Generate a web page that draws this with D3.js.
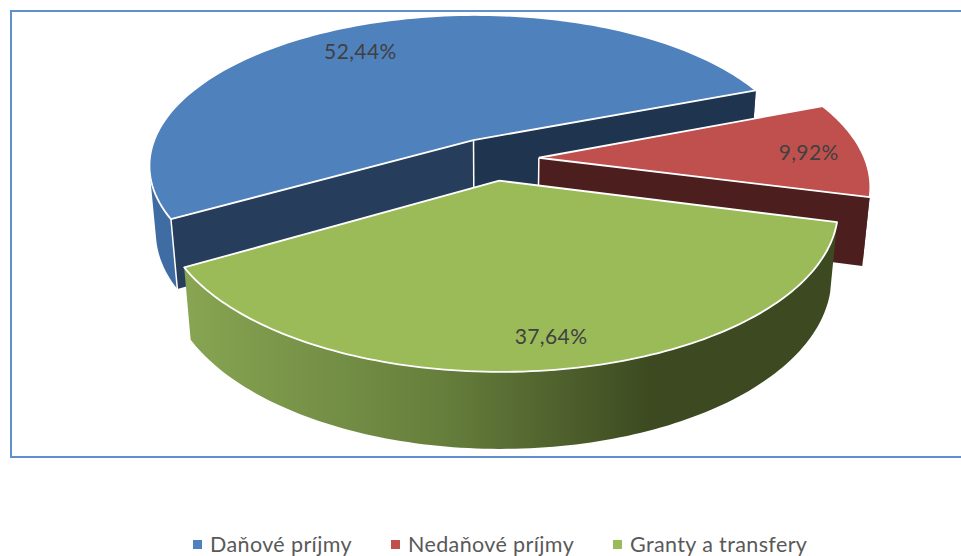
<!DOCTYPE html>
<html>
<head>
  <meta charset="utf-8">
  <script src="https://d3js.org/d3.v7.min.js"></script>
  <style>
    html, body { margin: 0; padding: 0; background: #fff; overflow: hidden; }
    text { font-family: Lato, "Open Sans", sans-serif; letter-spacing: 0.38px; }
  </style>
</head>
<body>
<script>
  // values
  var categories = ["Daňové príjmy", "Nedaňové príjmy", "Granty a transfery"];
  var shares = [52.44, 9.92, 37.64];
  var shareLabels = ["52,44%", "9,92%", "37,64%"];

  var topColors = ["#4f81bd", "#c0504d", "#9bbb59"];
  var width = 961, height = 556;

  var svg = d3.select("body").append("svg")
      .attr("width", width)
      .attr("height", height);

  // frame, the right side runs off the page
  svg.append("rect")
      .attr("x", 11).attr("y", 11)
      .attr("width", 970).attr("height", 446)
      .attr("fill", "none")
      .attr("stroke", "#5f8fcc")
      .attr("stroke-width", 2);

  // camera for the tilted pie
  var cx = 493, cy = 159, radius = 326, explode = 46;
  var tilt = 0.465, persp = 0.000507, drop = 68, dropW = 0.019;

  function project(x, z, h) {
    var w = 1 - persp * z + dropW * h;
    return [cx + x / w, cy + (tilt * z + drop * h) / w];
  }

  var pie = d3.pie()
      .sort(null)
      .startAngle(240 * Math.PI / 180)
      .endAngle(600 * Math.PI / 180);

  var slices = pie(shares).map(function (d, i) {
    var mid = (d.startAngle + d.endAngle) / 2;
    return {
      i: i,
      start: d.startAngle,
      end: d.endAngle,
      mid: mid,
      ox: explode * Math.sin(mid),
      oz: -explode * Math.cos(mid)
    };
  });

  function rimPoint(s, a, h) {
    return project(s.ox + radius * Math.sin(a), s.oz - radius * Math.cos(a), h);
  }
  function rim(s, h) {
    return d3.range(0, 121).map(function (k) {
      return rimPoint(s, s.start + (s.end - s.start) * k / 120, h);
    });
  }

  var line = d3.line();

  function face(points, fill) {
    return svg.append("path")
        .attr("d", line(points) + "Z")
        .attr("fill", fill);
  }
  function edge(points, w) {
    svg.append("path")
        .attr("d", line(points))
        .attr("fill", "none")
        .attr("stroke", "#fff")
        .attr("stroke-width", w)
        .attr("stroke-linejoin", "round");
  }

  // outer side as one path of small quads, all wound the same way
  function sideBand(top, base, fill) {
    var d = "";
    d3.range(top.length - 1).forEach(function (k) {
      var quad = [top[k], top[k + 1], base[k + 1], base[k]];
      if (d3.polygonArea(quad) < 0) quad.reverse();
      d += line(quad) + "Z";
    });
    svg.append("path").attr("d", d).attr("fill", fill);
  }

  // a cut wall shows only when the slice top lies above it on the screen
  function wallVisible(s, a) {
    var A = project(s.ox, s.oz, 0);
    var P = rimPoint(s, a, 0);
    var M = rimPoint(s, s.mid, 0);
    var t = (M[0] - A[0]) / (P[0] - A[0]);
    return M[1] < A[1] + t * (P[1] - A[1]);
  }

  // side of the green slice gets darker to the right
  var defs = svg.append("defs");
  var grad = defs.append("linearGradient")
      .attr("id", "greenSide")
      .attr("gradientUnits", "userSpaceOnUse")
      .attr("x1", 185).attr("y1", 0).attr("x2", 650).attr("y2", 0);
  grad.append("stop").attr("offset", "0").attr("stop-color", "#87a552");
  grad.append("stop").attr("offset", "0.55").attr("stop-color", "#667f3c");
  grad.append("stop").attr("offset", "1").attr("stop-color", "#3d4a21");

  var sideFill = ["#3f6ca3", "#4d1e1e", "url(#greenSide)"];
  var wallStart = ["#273d5c", "#4d1e1e", "#4d1e1e"];
  var wallEnd = ["#1f344e", "#4d1e1e", "#3d4a21"];

  // back to front: blue, red, green
  slices.forEach(function (s) {
    var apexTop = project(s.ox, s.oz, 0);
    var apexBase = project(s.ox, s.oz, 1);
    var top = rim(s, 0);
    var base = rim(s, 1);
    var showEnd = wallVisible(s, s.end);
    var showStart = wallVisible(s, s.start);

    sideBand(top, base, sideFill[s.i]);

    if (showEnd) {
      face([apexTop, rimPoint(s, s.end, 0), rimPoint(s, s.end, 1), apexBase], wallEnd[s.i]);
    }
    if (showStart) {
      face([apexTop, rimPoint(s, s.start, 0), rimPoint(s, s.start, 1), apexBase], wallStart[s.i]);
      edge([rimPoint(s, s.start, 0), rimPoint(s, s.start, 1)], 1.5);
    }
    if (showEnd || showStart) {
      edge([apexTop, apexBase], 1.5);
    }

    var outline = [apexTop].concat(top);
    face(outline, topColors[s.i]);
    edge(outline.concat([apexTop]), 1.8);
  });

  // labels sit on the bisector of each slice
  var labelRadius = [0.785, 0.835, 0.855];
  var labelShift = [-5 * Math.PI / 180, 1 * Math.PI / 180, -1 * Math.PI / 180];

  slices.forEach(function (s) {
    var a = s.mid + labelShift[s.i];
    var r = radius * labelRadius[s.i];
    var p = project(s.ox + r * Math.sin(a), s.oz - r * Math.cos(a), 0);
    svg.append("text")
        .attr("x", p[0])
        .attr("y", p[1] + 7)
        .attr("text-anchor", "middle")
        .attr("font-size", 21)
        .attr("fill", "#404040")
        .text(shareLabels[s.i]);
  });

  // legend
  var legendX = d3.scaleOrdinal().domain(categories).range([193, 391, 613]);
  var legend = svg.selectAll(".legend")
      .data(categories)
      .enter().append("g")
      .attr("class", "legend");

  legend.append("rect")
      .attr("x", function (d) { return legendX(d); })
      .attr("y", 540)
      .attr("width", 9)
      .attr("height", 9)
      .attr("fill", function (d, i) { return topColors[i]; });

  legend.append("text")
      .attr("x", function (d) { return legendX(d) + 17; })
      .attr("y", 552)
      .attr("font-size", 21.5)
      .attr("fill", "#595959")
      .text(function (d) { return d; });
</script>
</body>
</html>
